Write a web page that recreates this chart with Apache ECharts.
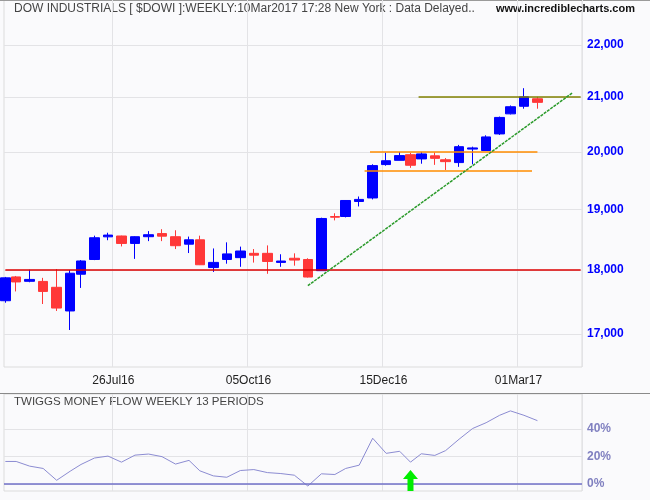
<!DOCTYPE html>
<html><head><meta charset="utf-8">
<script src="https://cdn.jsdelivr.net/npm/echarts@6/dist/echarts.min.js"></script>
<style>html,body{margin:0;padding:0;background:#fafafc}#c{width:650px;height:500px}</style>
</head><body><div id="c"></div>
<script>
// ---- data ----
const holidays = ['2016-05-30','2016-07-04','2016-09-05','2016-11-24','2016-12-26','2017-01-02','2017-01-16','2017-02-20'];
const axisStart = '2016-05-27';
const axisEnd = '2017-04-03';
const weekDates = ['2016-05-27','2016-06-03','2016-06-10','2016-06-17','2016-06-24','2016-07-01','2016-07-08','2016-07-15','2016-07-22','2016-07-29',
  '2016-08-05','2016-08-12','2016-08-19','2016-08-26','2016-09-02','2016-09-09','2016-09-16','2016-09-23','2016-09-30','2016-10-07',
  '2016-10-14','2016-10-21','2016-10-28','2016-11-04','2016-11-11','2016-11-18','2016-11-25','2016-12-02','2016-12-09','2016-12-16',
  '2016-12-23','2016-12-30','2017-01-06','2017-01-13','2017-01-20','2017-01-27','2017-02-03','2017-02-10','2017-02-17','2017-02-24',
  '2017-03-03','2017-03-10'];
const opens  = [17514,17890,17820,17818,17725,17355,17933,18170,18541,18555,18432,18543,18595,18543,18420,18492,18040,18170,18200,18270,
  18270,18123,18190,18170,17990,18880,18880,19135,19195,19775,19850,19950,19875,19930,19860,19810,20050,20025,20323,20690,20830,20970];
const closes = [17875,17810,17850,17660,17400,17949,18146,18526,18570,18432,18543,18576,18552,18395,18492,18085,18123,18261,18308,18240,
  18138,18145,18161,17888,18847,18868,19152,19170,19757,19843,19934,19763,19964,19885,19827,20093,20071,20269,20624,20822,21006,20903];
const lows   = [17483,17660,17805,17463,17355,17063,17715,18160,18485,18383,18180,18470,18470,18340,18275,18080,17970,18102,18052,18120,
  17940,18052,18070,17880,17985,18815,18865,19050,19170,19755,19850,19718,19790,19770,19680,19735,19780,20020,20305,20680,20785,20785];
const highs  = [17890,17905,18005,17875,18015,18000,18161,18560,18609,18560,18550,18636,18668,18650,18545,18560,18350,18450,18380,18340,
  18400,18255,18270,18190,18860,18935,19153,19220,19780,19987,19998,19980,19999,19990,19890,20125,20093,20298,20640,20845,21169,21006];
const moneyFlow = [16.4,16.4,13,11.3,2.7,9.3,14.2,18.9,20.3,15.9,21,21.8,19.9,14.5,17.2,9.6,5.9,4.9,9.8,10.5,
  8.3,7.6,6.4,-1.5,7.4,6.9,11.3,13.7,33.3,22.3,23.8,15.9,22,20.8,24.3,32.6,40.4,44.6,50,53.2,50,46.1];
const dateTickDates  = ['2016-07-26','2016-10-05','2016-12-15','2017-03-01'];
const dateTickLabels = ['26Jul16','05Oct16','15Dec16','01Mar17'];
const priceTicks = [17000,18000,19000,20000,21000,22000];
const mfTicks = [0,20,40];
const baseLevel = [18000];
const resistStart = ['2017-01-05'], resistEnd = ['2017-04-03'], resistLevel = [21000];
const rangeStart = ['2016-12-08','2016-12-06'], rangeEnd = ['2017-03-10','2017-03-08'], rangeLevel = [20000,19660];
const trendDates = ['2016-11-04','2017-03-29'], trendValues = [17750,21083];
const signalDates = ['2016-12-30'];
const titleText = 'DOW INDUSTRIALS [ $DOWI ]:WEEKLY:10Mar2017 17:28 New York : Data Delayed..';
const siteText = 'www.incrediblecharts.com';
const panelTitle = 'TWIGGS MONEY FLOW WEEKLY 13 PERIODS';

// ---- build trading-day axis ----
function pad(n){return n<10?'0'+n:''+n;}
const days = [];
{
  const hs = new Set(holidays);
  let d = new Date(axisStart + 'T00:00:00Z');
  const end = new Date(axisEnd + 'T00:00:00Z');
  while (d <= end) {
    const s = d.getUTCFullYear()+'-'+pad(d.getUTCMonth()+1)+'-'+pad(d.getUTCDate());
    const wd = d.getUTCDay();
    if (wd !== 0 && wd !== 6 && !hs.has(s)) days.push(s);
    d = new Date(d.getTime() + 86400000);
  }
}
const idx = {}; days.forEach((s,i)=>idx[s]=i);
const candleData = days.map(()=>'-');
const mfData = days.map(()=>'-');
weekDates.forEach((s,i)=>{
  candleData[idx[s]] = [opens[i], closes[i], lows[i], highs[i]];
  mfData[idx[s]] = moneyFlow[i];
});
const tickLabel = {}; dateTickDates.forEach((s,i)=>tickLabel[s]=dateTickLabels[i]);
const isTick = (i,v)=> tickLabel[v] !== undefined;
const fmt = v => Math.round(v).toLocaleString('en-US');
const FONT = 'Liberation Sans, Arial, sans-serif';
const gridLine = {show:true, lineStyle:{color:'#e3e3e6', width:1}};

const markLines = [
  [{coord:[days[0], baseLevel[0]]},{coord:[days[days.length-1], baseLevel[0]]}],
];
const chart = echarts.init(document.getElementById('c'), null, {renderer:'canvas'});
chart.setOption({
  backgroundColor:'#fafafc',
  animation:false,
  grid:[
    {left:4, right:68, top:0, height:367, show:true, borderColor:'#dcdcdc', borderWidth:1, backgroundColor:'transparent'},
    {left:4, right:68, top:394, height:97, show:true, borderColor:'#dcdcdc', borderWidth:1, backgroundColor:'transparent'}
  ],
  xAxis:[
    {type:'category', gridIndex:0, data:days, boundaryGap:true,
     axisLine:{show:false}, axisTick:{show:false},
     axisLabel:{interval:isTick, formatter:v=>tickLabel[v]||'', color:'#222', fontSize:12, fontFamily:FONT, margin:8},
     splitLine:Object.assign({interval:isTick}, gridLine)},
    {type:'category', gridIndex:1, data:days, boundaryGap:true,
     axisLine:{show:false}, axisTick:{show:false}, axisLabel:{show:false},
     splitLine:Object.assign({interval:isTick}, gridLine)}
  ],
  yAxis:[
    {type:'log', logBase:10, gridIndex:0, position:'right', min:16509, max:22901,
     axisLine:{show:false}, axisTick:{show:false, customValues:priceTicks},
     axisLabel:{customValues:priceTicks, formatter:fmt, color:'#0000ff', fontWeight:'bold', fontSize:12, fontFamily:FONT, margin:5},
     splitLine:gridLine},
    {type:'value', gridIndex:1, position:'right', min:-5.1, max:65.5,
     axisLine:{show:false}, axisTick:{show:false, customValues:mfTicks},
     axisLabel:{customValues:mfTicks, formatter:v=>Math.round(v)+'%', color:'#8080c0', fontWeight:'bold', fontSize:12, fontFamily:FONT, margin:5},
     splitLine:gridLine}
  ],
  series:[
    {type:'candlestick', xAxisIndex:0, yAxisIndex:0, data:candleData, barWidth:10,
     itemStyle:{color:'#0000ff', color0:'#ff3838', borderColor:'#0000ff', borderColor0:'#ff3838', borderWidth:1},
     markLine:{silent:true, symbol:'none', label:{show:false},
       data:[
         [{coord:[days[0], baseLevel[0]], lineStyle:{color:'#dd0000', width:1.5, type:'solid'}},{coord:[days[days.length-1], baseLevel[0]]}],
         [{coord:[resistStart[0], resistLevel[0]], lineStyle:{color:'#808000', width:1.5, type:'solid'}},{coord:[resistEnd[0], resistLevel[0]]}],
         [{coord:[rangeStart[0], rangeLevel[0]], lineStyle:{color:'#ff8c00', width:1.5, type:'solid'}},{coord:[rangeEnd[0], rangeLevel[0]]}],
         [{coord:[rangeStart[1], rangeLevel[1]], lineStyle:{color:'#ff8c00', width:1.5, type:'solid'}},{coord:[rangeEnd[1], rangeLevel[1]]}],
         [{coord:[trendDates[0], trendValues[0]], lineStyle:{color:'#2a9a2a', width:1.5, type:[3,1]}},{coord:[trendDates[1], trendValues[1]]}]
       ]}},
    {type:'line', xAxisIndex:1, yAxisIndex:1, data:mfData, connectNulls:true, showSymbol:false, symbol:'none',
     lineStyle:{color:'#8c8cd2', width:1}, itemStyle:{color:'#8c8cd2'},
     markLine:{silent:true, symbol:'none', label:{show:false},
       data:[{yAxis:0, lineStyle:{color:'#7070c8', width:1.5, type:'solid'}}]},
     markPoint:{silent:true, symbol:'path://M7.5,0 L15,9 L10.5,9 L10.5,21 L4.5,21 L4.5,9 L0,9 Z', symbolSize:[15,21],
       symbolOffset:[0,-3.5], label:{show:false}, itemStyle:{color:'#00ee00'},
       data:signalDates.map(s=>({coord:[s,0]}))}}
  ],
  graphic:[
    {type:'line', shape:{x1:0,y1:0.5,x2:650,y2:0.5}, style:{stroke:'#9a9a9a', lineWidth:1}, silent:true},
    {type:'line', shape:{x1:0,y1:393.5,x2:650,y2:393.5}, style:{stroke:'#8a8a8a', lineWidth:1}, silent:true},
    {type:'text', x:14, y:9, style:{text:titleText, font:'12px '+FONT, fill:'#444', verticalAlign:'middle'}, silent:true},
    {type:'text', x:496, y:9, style:{text:siteText, font:'bold 11px '+FONT, fill:'#111', verticalAlign:'middle'}, silent:true},
    {type:'text', x:14, y:402, style:{text:panelTitle, font:'11.5px '+FONT, fill:'#444', verticalAlign:'middle'}, silent:true}
  ]
});
</script></body></html>
